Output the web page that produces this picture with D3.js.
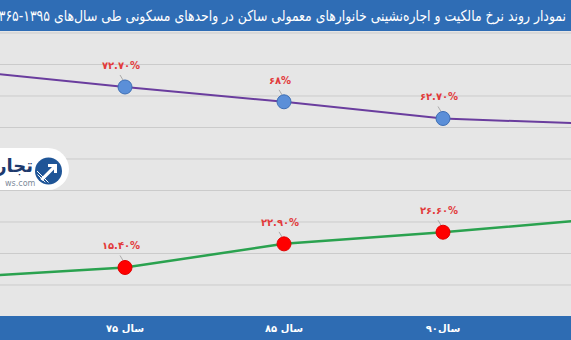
<!DOCTYPE html>
<html>
<head>
<meta charset="utf-8">
<script src="https://cdn.jsdelivr.net/npm/d3@7"></script>
<style>
  html, body { margin: 0; padding: 0; background: #e6e6e6; }
  svg { display: block; }
</style>
</head>
<body>
<svg id="chart" width="571" height="340"></svg>
<script>
// Census years (1365 and 1395 sit just outside the visible plot)
const years = ["سال ۶۵", "سال ۷۵", "سال ۸۵", "سال۹۰", "سال ۹۵"];
// Share of households owning their home (%)
const ownership = [77.8, 72.7, 68, 62.7, 60.9];
// Share of households renting (%)
const renting = [12.4, 15.4, 22.9, 26.6, 30.9];
// Which points carry a marker and value label
const labelled = [false, true, true, true, false];
const yTicks = [10, 20, 30, 40, 50, 60, 70, 80, 90];
const title = "نمودار روند نرخ مالکیت و اجاره‌نشینی خانوارهای معمولی ساکن در واحدهای مسکونی طی سال‌های ۱۳۹۵-۱۳۶۵";

const W = 571, H = 340;
const plotTop = 31, plotBottom = 316;
const svg = d3.select("#chart");

const x = d3.scalePoint().domain(years).range([-34, 602]);
const y = d3.scaleLinear().domain([0, 100]).range([plotBottom, 1]);

const faDigits = s => String(s).replace(/\d/g, d => "۰۱۲۳۴۵۶۷۸۹"[d]);
const fmt = v => faDigits(Number.isInteger(v) ? String(v) : v.toFixed(2)) + "%";

// plot background
svg.append("rect").attr("x", 0).attr("y", 0).attr("width", W).attr("height", H).attr("fill", "#e6e6e6");

// horizontal gridlines
svg.append("g")
  .call(d3.axisLeft(y).tickValues(yTicks).tickSize(-W * 2).tickFormat(""))
  .call(g => g.select(".domain").remove())
  .call(g => g.selectAll(".tick line").attr("stroke", "#cbcbcb").attr("stroke-width", 1));

// watermark logo
const logo = svg.append("g");
logo.append("path")
  .attr("d", "M-10,148 L48,148 A21,21 0 0 1 48,190 L-10,190 Z")
  .attr("fill", "#ffffff");
logo.append("circle").attr("cx", 48.5).attr("cy", 171).attr("r", 13.5).attr("fill", "#1f5597");
const clip = svg.append("defs").append("clipPath").attr("id", "logoClip");
clip.append("circle").attr("cx", 48.5).attr("cy", 171).attr("r", 11.5);
const stripes = logo.append("g").attr("clip-path", "url(#logoClip)");
for (let i = 0; i < 7; i++) {
  stripes.append("line")
    .attr("x1", 34 + i * 3).attr("y1", 186)
    .attr("x2", 34 + i * 3 - 20).attr("y2", 166)
    .attr("stroke", "#ffffff").attr("stroke-width", 1);
}
stripes.append("path")
  .attr("d", "M40,179 L52,167 L48,167 L48,164 L57,164 L57,173 L54,173 L54,169.5 L42.5,181 Z")
  .attr("fill", "#ffffff");
logo.append("text")
  .attr("x", 33).attr("y", 172)
  .attr("text-anchor", "end")
  .attr("font-family", "DejaVu Sans")
  .attr("font-weight", "bold")
  .attr("font-size", 18)
  .attr("fill", "#1e3a6e")
  .text("تجارت");
logo.append("text")
  .attr("x", 5).attr("y", 186)
  .attr("font-family", "DejaVu Sans")
  .attr("font-size", 8)
  .attr("fill", "#7d8a99")
  .text("ws.com");

// series lines
const line = d3.line().x((d, i) => x(years[i])).y(d => y(d));
svg.append("path").datum(ownership).attr("d", line)
  .attr("fill", "none").attr("stroke", "#6a3d9e").attr("stroke-width", 2);
svg.append("path").datum(renting).attr("d", line)
  .attr("fill", "none").attr("stroke", "#2aa24f").attr("stroke-width", 2.5);

function drawPoints(values, fill, stroke) {
  const pts = values.map((v, i) => ({ v, i })).filter(d => labelled[d.i]);
  const g = svg.append("g");
  // leader lines
  g.selectAll("line.leader").data(pts).join("line")
    .attr("x1", d => x(years[d.i]) - 5).attr("y1", d => y(d.v) - 12)
    .attr("x2", d => x(years[d.i]) - 2).attr("y2", d => y(d.v) - 7)
    .attr("stroke", "#9a9a9a").attr("stroke-width", 0.8);
  g.selectAll("circle").data(pts).join("circle")
    .attr("cx", d => x(years[d.i])).attr("cy", d => y(d.v))
    .attr("r", 7).attr("fill", fill).attr("stroke", stroke).attr("stroke-width", 1);
  g.selectAll("text").data(pts).join("text")
    .attr("x", d => x(years[d.i]) - 4).attr("y", d => y(d.v) - 18)
    .attr("text-anchor", "middle")
    .attr("font-family", "DejaVu Sans")
    .attr("font-weight", "bold")
    .attr("font-size", 10)
    .attr("fill", "#e23b3b")
    .text(d => fmt(d.v));
}
drawPoints(ownership, "#5b8fd8", "#3f6fb5");
drawPoints(renting, "#ff0000", "#e00000");

// title bar
svg.append("rect").attr("x", 0).attr("y", 0).attr("width", W).attr("height", plotTop).attr("fill", "#2f6db5");
svg.append("text")
  .attr("x", 566).attr("y", 21)
  .attr("text-anchor", "end")
  .attr("font-family", "DejaVu Sans")
  .attr("font-size", 15)
  .attr("textLength", 574)
  .attr("lengthAdjust", "spacingAndGlyphs")
  .attr("fill", "#ffffff")
  .text(title);

// category bar (only categories inside the plot get a label)
svg.append("rect").attr("x", 0).attr("y", plotBottom).attr("width", W).attr("height", H - plotBottom).attr("fill", "#2e6cb3");
svg.append("g").selectAll("text").data(years.filter(d => x(d) > 0 && x(d) < W)).join("text")
  .attr("x", d => x(d)).attr("y", 332)
  .attr("text-anchor", "middle")
  .attr("font-family", "DejaVu Sans")
  .attr("font-weight", "bold")
  .attr("font-size", 10)
  .attr("fill", "#ffffff")
  .text(d => d);
</script>
</body>
</html>
